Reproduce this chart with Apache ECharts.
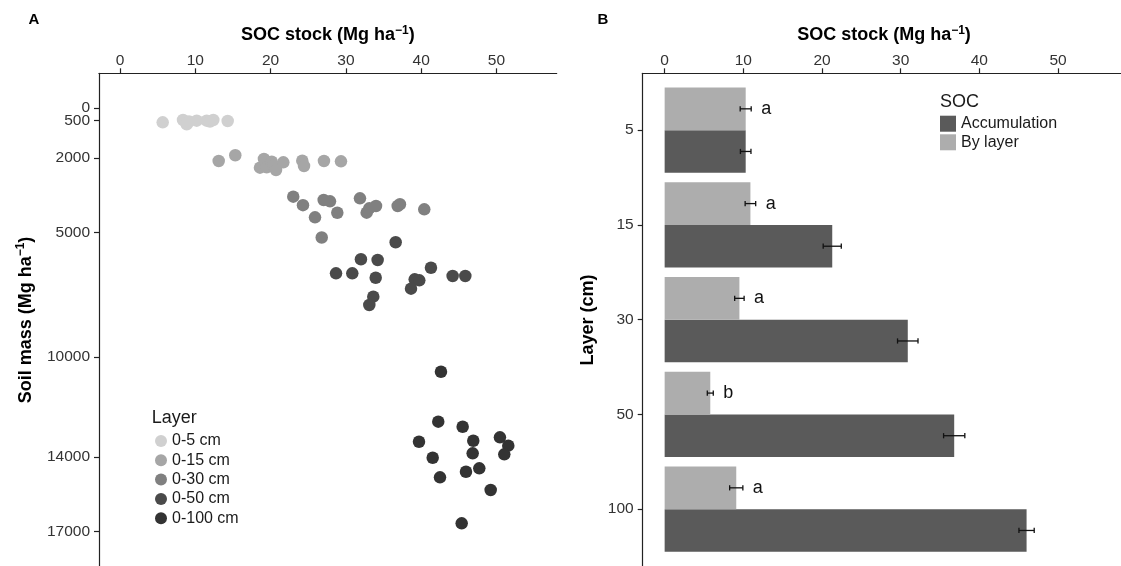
<!DOCTYPE html>
<html><head><meta charset="utf-8">
<script src="https://cdn.jsdelivr.net/npm/echarts@6/dist/echarts.min.js"></script>
<style>html,body{margin:0;padding:0;background:#fff}#c{width:1121px;height:566px}</style>
</head><body><div id="c"></div>
<script>
// ---------- Panel A data ----------
const layerNames = ['0-5 cm', '0-15 cm', '0-30 cm', '0-50 cm', '0-100 cm'];
const layerColors = ['#d0d0d0', '#a6a6a6', '#808080', '#4a4a4a', '#333333'];
const soc_0_5   = [5.67, 8.37, 8.86, 9.16, 10.19, 11.51, 11.95, 12.39, 14.30];
const mass_0_5  = [574, 482, 654, 542, 510, 510, 542, 482, 522];
const soc_0_15  = [13.11, 15.31, 18.59, 19.12, 19.48, 20.15, 20.36, 20.72, 21.69, 24.21, 24.44, 27.09, 29.35];
const mass_0_15 = [2127, 1898, 2396, 2047, 2380, 2155, 2327, 2488, 2179, 2115, 2327, 2127, 2139];
const soc_0_30  = [23.01, 24.30, 25.90, 27.05, 27.89, 28.86, 26.79, 31.87, 32.76, 33.11, 34.00, 36.88, 37.18, 40.41];
const mass_0_30 = [3559, 3900, 4386, 3692, 3744, 4205, 5197, 3624, 4201, 4025, 3933, 3933, 3864, 4065];
const soc_0_50  = [36.61, 32.00, 34.22, 28.69, 30.85, 33.96, 41.30, 44.18, 45.86, 39.14, 39.75, 38.65, 33.64, 33.11];
const mass_0_50 = [5389, 6071, 6100, 6633, 6633, 6810, 6409, 6742, 6742, 6874, 6914, 7251, 7572, 7905];
const soc_0_100  = [42.63, 42.27, 45.51, 39.71, 46.92, 50.46, 51.57, 41.53, 46.84, 51.04, 45.95, 47.72, 42.50, 49.23, 45.38];
const mass_0_100 = [10582, 12588, 12789, 13391, 13351, 13214, 13551, 14033, 13856, 13896, 14595, 14458, 14819, 15329, 16665];
const massTicks = [0, 500, 2000, 5000, 10000, 14000, 17000];
const socTicks = [0, 10, 20, 30, 40, 50];

// ---------- Panel B data ----------
const depthCategories = ['5', '15', '30', '50', '100'];
const accumulation   = [10.3, 21.3, 30.9, 36.8, 46.0];
const accumulationSE = [0.67, 1.15, 1.3, 1.35, 0.97];
const byLayer   = [10.3, 10.9, 9.5, 5.8, 9.1];
const byLayerSE = [0.7, 0.67, 0.6, 0.38, 0.84];
const letters = ['a', 'a', 'a', 'b', 'a'];
const barNames = ['Accumulation', 'By layer'];
const barColors = ['#5a5a5a', '#adadad'];

const FONT = "'Liberation Sans', Arial, sans-serif";
const AX = '#222';
const LBL = '#333';

function zip(a, b) { return a.map((v, i) => [v, b[i]]); }

const scatterSets = [zip(soc_0_5, mass_0_5), zip(soc_0_15, mass_0_15), zip(soc_0_30, mass_0_30), zip(soc_0_50, mass_0_50), zip(soc_0_100, mass_0_100)];

const chart = echarts.init(document.getElementById('c'), null, {renderer: 'canvas'});

function barRender(offsetSign, color) {
  return function (params, api) {
    const v = api.value(0), c = api.value(1);
    const a = api.coord([0, c]);
    const b = api.coord([v, c + offsetSign * 0.45]);
    return {type: 'rect', shape: {x: a[0], y: Math.min(a[1], b[1]), width: b[0] - a[0], height: Math.abs(b[1] - a[1])}, style: {fill: color}};
  };
}
function errRender(offsetSign, withLetter) {
  return function (params, api) {
    const v = api.value(0), se = api.value(1), c = api.value(2);
    const yc = c + offsetSign * 0.225;
    const p0 = api.coord([v - se, yc]);
    const p1 = api.coord([v + se, yc]);
    const st = {stroke: '#111', lineWidth: 1.3};
    const ch = [
      {type: 'line', shape: {x1: p0[0], y1: p0[1], x2: p1[0], y2: p1[1]}, style: st},
      {type: 'line', shape: {x1: p0[0], y1: p0[1] - 2.6, x2: p0[0], y2: p0[1] + 2.6}, style: st},
      {type: 'line', shape: {x1: p1[0], y1: p1[1] - 2.6, x2: p1[0], y2: p1[1] + 2.6}, style: st}
    ];
    if (withLetter) {
      ch.push({type: 'text', x: p1[0] + 10, y: p1[1], style: {text: letters[params.dataIndex], fontSize: 18, fontFamily: FONT, fill: '#111', align: 'left', verticalAlign: 'middle'}});
    }
    return {type: 'group', children: ch};
  };
}

const titleRich = {
  b: {fontSize: 18, fontWeight: 'bold', fontFamily: FONT, fill: '#000'},
  s: {fontSize: 12, fontWeight: 'bold', fontFamily: FONT, fill: '#000', padding: [0, 0, 10, 0]}
};
const socTitle = '{b|SOC stock (Mg ha}{s|−1}{b|)}';

function xAx(grid) {
  return {gridIndex: grid, type: 'value', position: 'top', min: -2.79, max: 58,
    axisLine: {show: true, onZero: false, lineStyle: {color: AX, width: 1.2}},
    axisTick: {show: true, length: 5, customValues: socTicks, lineStyle: {color: AX, width: 1.2}},
    axisLabel: {customValues: socTicks, margin: 5, fontSize: 15.5, color: LBL, fontFamily: FONT, formatter: v => String(v)},
    splitLine: {show: false}};
}
// The "0" and "500" labels overlap in the original; they are split over two aligned axes so both stay visible.
const massLabelsMain = massTicks.filter(v => v !== 500);
const massLabelsExtra = massTicks.filter(v => v === 500);
function massAxis(labels, showLine) {
  return {gridIndex: 0, type: 'value', inverse: true, min: -1392, max: 18378, position: 'left',
    axisLine: {show: showLine, onZero: false, lineStyle: {color: AX, width: 1.2}},
    axisTick: {show: showLine, length: 5, customValues: massTicks, lineStyle: {color: AX, width: 1.2}},
    axisLabel: {customValues: labels, margin: 9, fontSize: 15.5, color: LBL, fontFamily: FONT,
      hideOverlap: false, showMinLabel: true, showMaxLabel: true, formatter: v => String(v)},
    splitLine: {show: false}};
}

const option = {
  animation: false,
  backgroundColor: '#fff',
  grid: [
    {left: 99, top: 73.3, width: 457.7, height: 492.7},
    {left: 642.7, top: 73.3, width: 482.4, height: 492.7}
  ],
  xAxis: [xAx(0), xAx(1)],
  yAxis: [
    massAxis(massLabelsMain, true),
    {gridIndex: 1, type: 'value', inverse: true, min: 0.4, max: 5.6,
      axisLine: {show: true, onZero: false, lineStyle: {color: AX, width: 1.2}},
      axisTick: {show: true, length: 5, customValues: [1, 2, 3, 4, 5], lineStyle: {color: AX, width: 1.2}},
      axisLabel: {customValues: [1, 2, 3, 4, 5], margin: 9, fontSize: 15.5, color: LBL, fontFamily: FONT,
        formatter: v => depthCategories[Math.round(v) - 1]},
      splitLine: {show: false}},
    massAxis(massLabelsExtra, false)
  ],
  legend: [
    {data: layerNames, orient: 'vertical', left: 155, top: 433, padding: 0, icon: 'circle', itemWidth: 12, itemHeight: 12, itemGap: 3.3,
      selectedMode: false, textStyle: {fontSize: 16, color: '#1a1a1a', fontFamily: FONT, lineHeight: 16}},
    {data: barNames, orient: 'vertical', left: 940, top: 115.7, padding: 0, icon: 'rect', itemWidth: 16, itemHeight: 16, itemGap: 2.6,
      selectedMode: false, textStyle: {fontSize: 16, color: '#1a1a1a', fontFamily: FONT, lineHeight: 16}}
  ],
  graphic: [
    {type: 'text', x: 34, y: 19.5, style: {text: 'A', fontSize: 15, fontWeight: 'bold', fontFamily: FONT, fill: '#000', align: 'center', verticalAlign: 'middle'}},
    {type: 'text', x: 603, y: 20, style: {text: 'B', fontSize: 15, fontWeight: 'bold', fontFamily: FONT, fill: '#000', align: 'center', verticalAlign: 'middle'}},
    {type: 'text', x: 327.8, y: 35.5, style: {text: socTitle, rich: titleRich, align: 'center', verticalAlign: 'middle'}},
    {type: 'text', x: 884, y: 35.5, style: {text: socTitle, rich: titleRich, align: 'center', verticalAlign: 'middle'}},
    {type: 'text', x: 26, y: 320, rotation: Math.PI / 2, style: {text: '{b|Soil mass (Mg ha}{s|−1}{b|)}', rich: titleRich, align: 'center', verticalAlign: 'middle'}},
    {type: 'text', x: 588, y: 320, rotation: Math.PI / 2, style: {text: 'Layer (cm)', fontSize: 18, fontWeight: 'bold', fontFamily: FONT, fill: '#000', align: 'center', verticalAlign: 'middle'}},
    {type: 'text', x: 151.7, y: 418, style: {text: 'Layer', fontSize: 18, fontFamily: FONT, fill: '#1a1a1a', align: 'left', verticalAlign: 'middle'}},
    {type: 'text', x: 940, y: 102, style: {text: 'SOC', fontSize: 18, fontFamily: FONT, fill: '#1a1a1a', align: 'left', verticalAlign: 'middle'}}
  ],
  series: [
    ...scatterSets.map((d, i) => ({
      name: layerNames[i], type: 'scatter', xAxisIndex: 0, yAxisIndex: 0, data: d,
      symbol: 'circle', symbolSize: 12.5, itemStyle: {color: layerColors[i], opacity: 1}, emphasis: {disabled: true}
    })),
    {name: 'Accumulation', type: 'custom', xAxisIndex: 1, yAxisIndex: 1, itemStyle: {color: barColors[0]},
      data: accumulation.map((v, i) => [v, i + 1]), renderItem: barRender(1, barColors[0])},
    {name: 'By layer', type: 'custom', xAxisIndex: 1, yAxisIndex: 1, itemStyle: {color: barColors[1]},
      data: byLayer.map((v, i) => [v, i + 1]), renderItem: barRender(-1, barColors[1])},
    {name: 'accErr', type: 'custom', xAxisIndex: 1, yAxisIndex: 1,
      data: accumulation.map((v, i) => [v, accumulationSE[i], i + 1]), renderItem: errRender(1, false)},
    {name: 'layerErr', type: 'custom', xAxisIndex: 1, yAxisIndex: 1,
      data: byLayer.map((v, i) => [v, byLayerSE[i], i + 1]), renderItem: errRender(-1, true)}
  ]
};
chart.setOption(option);
</script>
</body></html>
